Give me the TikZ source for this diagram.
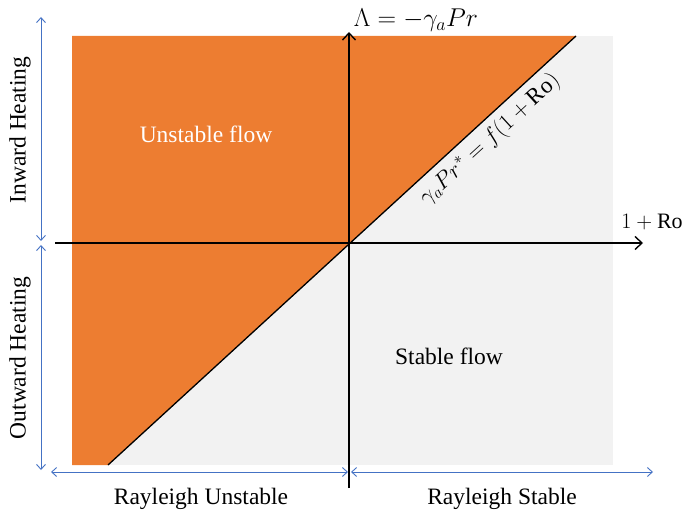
\RequirePackage{fix-cm}
\documentclass[tikz,border=0pt]{standalone}
\usepackage{fontspec}
\setmainfont{Liberation Serif}
\usetikzlibrary{arrows.meta}
\definecolor{orangec}{HTML}{ED7D31}
\definecolor{grayc}{HTML}{F2F2F2}
\definecolor{bluec}{HTML}{4472C4}
\begin{document}
\begin{tikzpicture}[x=1pt,y=-1pt,
  axis/.style={line width=1.6pt, -{Straight Barb[length=7pt,width=13pt,line width=1.4pt]}},
  blu/.style={draw=bluec, line width=0.9pt, {Straight Barb[length=5pt,width=9pt]}-{Straight Barb[length=5pt,width=9pt]}},
  lbl/.style={font=\fontsize{23.5}{28}\selectfont, inner sep=0pt},
  mlbl/.style={font=\fontsize{22}{26}\selectfont, inner sep=0pt}]
\useasboundingbox (0,0) rectangle (682,510);
% regions
\fill[grayc] (72,36) rectangle (613,465);
\fill[orangec] (72,36) -- (576,36) -- (108,465) -- (72,465) -- cycle;
\coordinate (d1) at (108,465);
\coordinate (d2) at (576,36);
\draw[line width=1.3pt] (d1) -- (d2)
  node[mlbl, pos=0.79, sloped, below=6pt, scale=1.05] (crit) {$\gamma_a Pr^{*} = f(1+\mathrm{Ro})$};
% axes
\coordinate (xl) at (55,243);
\coordinate (xr) at (643,243);
\coordinate (yb) at (349,488);
\coordinate (yt) at (349,32);
\draw[axis] (xl) -- (xr);
\draw[axis] (yb) -- (yt);
% blue arrows
\coordinate (v1) at (41,17);
\coordinate (v2) at (41,241);
\coordinate (v3) at (41,245);
\coordinate (v4) at (41,470);
\coordinate (h1) at (51,472);
\coordinate (h2) at (348,472);
\coordinate (h3) at (351,472);
\coordinate (h4) at (653,472);
\draw[blu] (v1) -- (v2);
\draw[blu] (v3) -- (v4);
\draw[blu] (h1) -- (h2);
\draw[blu] (h3) -- (h4);
% labels
\node[lbl, rotate=90] (inw) at (20,130) {Inward Heating};
\node[lbl, rotate=90] (outw) at (20,358) {Outward Heating};
\node[lbl] (ru) at (201,499) {Rayleigh Unstable};
\node[lbl] (rs) at (502,499) {Rayleigh Stable};
\node[lbl, text=white] (uf) at (206,134) {Unstable flow};
\node[lbl] (sf) at (449,356) {Stable flow};
\node[mlbl, scale=1.17] (lam) at (416,20) {$\Lambda = -\gamma_a Pr$};
\node[mlbl] (ro) at (652,222) {$1+\mathrm{Ro}$};
\end{tikzpicture}
\end{document}
